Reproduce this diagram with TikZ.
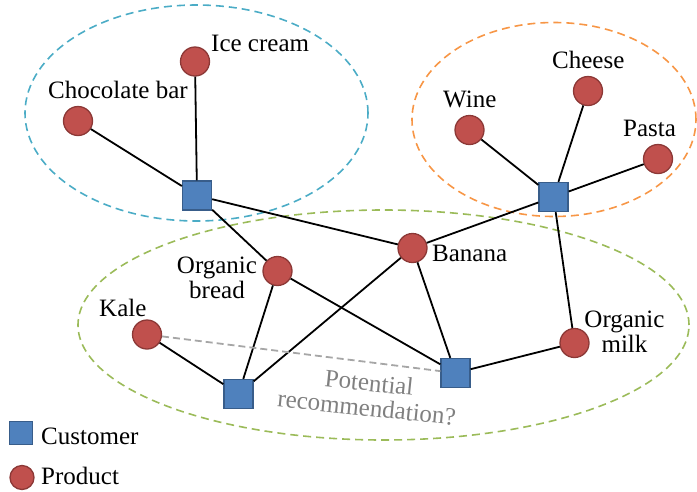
\documentclass[tikz,border=0pt]{standalone}
\usepackage{fontspec}
\setmainfont{Liberation Serif}
\usetikzlibrary{backgrounds}
\definecolor{prodfill}{HTML}{C0504D}
\definecolor{prodline}{HTML}{8C3836}
\definecolor{custfill}{HTML}{4F81BD}
\definecolor{custline}{HTML}{385D8A}
\definecolor{grpblue}{HTML}{4BACC6}
\definecolor{grporange}{HTML}{F79646}
\definecolor{grpgreen}{HTML}{9BBB59}
\definecolor{recgray}{HTML}{A6A6A6}
\definecolor{rectext}{HTML}{808080}
\begin{document}
\begin{tikzpicture}[x=1pt,y=-1pt,
 product/.style={circle,fill=prodfill,draw=prodline,line width=1.3pt,minimum size=29pt,inner sep=0},
 customer/.style={rectangle,fill=custfill,draw=custline,line width=1.3pt,minimum size=29pt,inner sep=0},
 lbl/.style={font=\fontsize{25}{25}\selectfont,inner sep=0,text=black},
 link/.style={line width=1.8pt,black},
 group/.style={dash pattern=on 8pt off 5pt,line width=1.6pt},
]
\useasboundingbox (0,0) rectangle (697,491);
% products and customers
\node[product] (ice) at (195,61.5) {};
\node[product] (choc) at (78,121) {};
\node[customer] (c1) at (197,195.5) {};
\node[product] (wine) at (469.5,130) {};
\node[product] (cheese) at (588,91) {};
\node[product] (pasta) at (658,159) {};
\node[customer] (c2) at (553.5,197) {};
\node[product] (banana) at (412.5,248) {};
\node[product] (bread) at (277.5,271) {};
\node[product] (kale) at (147,334.5) {};
\node[customer] (c3) at (238.5,394) {};
\node[customer] (c4) at (455.5,373) {};
\node[product] (milk) at (574.5,343) {};
% labels
\node[lbl,anchor=base west] (icel) at (211,51) {Ice cream};
\node[lbl,anchor=base west] (chocl) at (48,98) {Chocolate bar};
\node[lbl,anchor=base west] (winel) at (443,107) {Wine};
\node[lbl,anchor=base west] (cheesel) at (552,68) {Cheese};
\node[lbl,anchor=base west] (pastal) at (623,136) {Pasta};
\node[lbl,anchor=base west] (bananal) at (432,261) {Banana};
\node[lbl,anchor=base west] (kalel) at (99,316) {Kale};
\node[lbl,align=center] (breadl) at (217,278) {Organic\\bread};
\node[lbl,align=center] (milkl) at (624.5,331.5) {Organic\\milk};
\node[lbl,align=center,text=rectext,rotate=-6] (rec) at (368,395) {Potential\\recommendation?};
% legend
\node[customer,minimum size=23pt] (legc) at (21,433) {};
\node[product,minimum size=24pt] (legp) at (22,477.5) {};
\node[lbl,anchor=base west] (legcl) at (41,444) {Customer};
\node[lbl,anchor=base west] (legpl) at (41,484) {Product};
% groups
\begin{scope}[on background layer]
\draw[group,grpblue] (196.5,113) ellipse [x radius=171.5pt, y radius=108pt];
\draw[group,grporange] (554,119.5) ellipse [x radius=142pt, y radius=97pt];
\draw[group,grpgreen] (383.5,325) ellipse [x radius=305.5pt, y radius=115pt];
\end{scope}
% edges
\draw[link] (c1)--(ice);
\draw[link] (c1)--(choc);
\draw[link] (c1)--(banana);
\draw[link] (c1)--(bread);
\draw[link] (c2)--(wine);
\draw[link] (c2)--(cheese);
\draw[link] (c2)--(pasta);
\draw[link] (c2)--(banana);
\draw[link] (c2)--(milk);
\draw[link] (c3)--(kale);
\draw[link] (c3)--(bread);
\draw[link] (c3)--(banana);
\draw[link] (c4)--(banana);
\draw[link] (c4)--(milk);
\draw[link] (c4)--(bread);
\draw[line width=1.8pt,recgray,dash pattern=on 7pt off 4pt] (kale)--(c4);
\end{tikzpicture}
\end{document}
